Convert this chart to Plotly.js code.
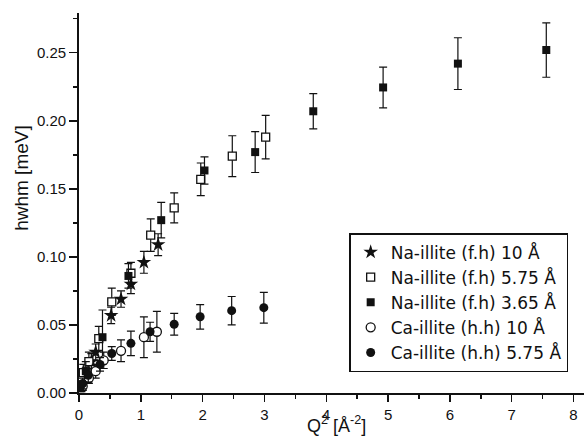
<!DOCTYPE html>
<html>
<head>
<meta charset="utf-8">
<script src="https://cdn.plot.ly/plotly-3.0.1.min.js"></script>
<style>html,body{margin:0;padding:0;background:#fff;}#chart{width:584px;height:442px;}</style>
</head>
<body>
<div id="chart"></div>
<script>
// Series names
const seriesNames = [
  "Na-illite (f.h) 10 Å",
  "Na-illite (f.h) 5.75 Å",
  "Na-illite (f.h) 3.65 Å",
  "Ca-illite (h.h) 10 Å",
  "Ca-illite (h.h) 5.75 Å"
];

// Na-illite (f.h) 10 Å  (stars)
const naStarX   = [0.05, 0.12, 0.20, 0.27, 0.52, 0.68, 0.84, 1.05, 1.28];
const naStarY   = [0.006, 0.014, 0.023, 0.030, 0.057, 0.069, 0.080, 0.096, 0.109];
const naStarErr = [0.004, 0.005, 0.006, 0.006, 0.006, 0.006, 0.007, 0.008, 0.008];

// Na-illite (f.h) 5.75 Å (open squares)
const naOpenSqX   = [0.03, 0.07, 0.16, 0.32, 0.53, 0.84, 1.16, 1.54, 1.97, 2.48, 3.02];
const naOpenSqY   = [0.010, 0.015, 0.023, 0.040, 0.067, 0.088, 0.116, 0.136, 0.157, 0.174, 0.188];
const naOpenSqErr = [0.005, 0.006, 0.007, 0.009, 0.010, 0.008, 0.012, 0.011, 0.012, 0.015, 0.016];

// Na-illite (f.h) 3.65 Å (filled squares)
const naSqX   = [0.04, 0.11, 0.38, 0.80, 1.33, 2.03, 2.85, 3.79, 4.92, 6.13, 7.56];
const naSqY   = [0.005, 0.016, 0.041, 0.086, 0.127, 0.1635, 0.177, 0.207, 0.2245, 0.242, 0.252];
const naSqErr = [0.004, 0.007, 0.020, 0.009, 0.013, 0.010, 0.015, 0.013, 0.015, 0.019, 0.020];

// Ca-illite (h.h) 10 Å (open circles)
const caOpenX   = [0.06, 0.16, 0.27, 0.40, 0.68, 1.05, 1.26];
const caOpenY   = [0.005, 0.011, 0.016, 0.024, 0.031, 0.041, 0.045];
const caOpenErr = [0.003, 0.004, 0.005, 0.006, 0.008, 0.015, 0.015];

// Ca-illite (h.h) 5.75 Å (filled circles)
const caX   = [0.02, 0.06, 0.15, 0.34, 0.53, 0.84, 1.15, 1.54, 1.96, 2.47, 2.99];
const caY   = [0.004, 0.007, 0.013, 0.021, 0.029, 0.0365, 0.045, 0.0505, 0.056, 0.0605, 0.0627];
const caErr = [0.003, 0.004, 0.005, 0.005, 0.005, 0.009, 0.007, 0.008, 0.009, 0.0104, 0.0113];

const xRange = [0, 8.17];
const yRange = [0, 0.2792];

function errStyle(arr){
  return {type:'data', array:arr, visible:true, color:'#111', thickness:1.2, width:4};
}

const traces = [
  {x:naStarX, y:naStarY, name:seriesNames[0], type:'scatter', mode:'markers',
   marker:{symbol:'star', size:11, color:'#111'}, error_y:errStyle(naStarErr)},
  {x:naOpenSqX, y:naOpenSqY, name:seriesNames[1], type:'scatter', mode:'markers',
   marker:{symbol:'square', size:8, color:'#fff', line:{color:'#111', width:1.3}}, error_y:errStyle(naOpenSqErr)},
  {x:naSqX, y:naSqY, name:seriesNames[2], type:'scatter', mode:'markers',
   marker:{symbol:'square', size:8, color:'#111'}, error_y:errStyle(naSqErr)},
  {x:caOpenX, y:caOpenY, name:seriesNames[3], type:'scatter', mode:'markers',
   marker:{symbol:'circle', size:9, color:'#fff', line:{color:'#111', width:1.3}}, error_y:errStyle(caOpenErr)},
  {x:caX, y:caY, name:seriesNames[4], type:'scatter', mode:'markers',
   marker:{symbol:'circle', size:9, color:'#111'}, error_y:errStyle(caErr)}
];

const font = {family:'"Liberation Sans", Arial, sans-serif', color:'#111'};

const layout = {
  width:584, height:442,
  margin:{l:79, r:0, t:13, b:49},
  paper_bgcolor:'#fff', plot_bgcolor:'#fff',
  font:Object.assign({size:15}, font),
  showlegend:true,
  legend:{x:0.535, y:0.421, xanchor:'left', yanchor:'top',
    bgcolor:'#fff', bordercolor:'#111', borderwidth:1.5,
    font:{family:'"DejaVu Sans", sans-serif', size:17, color:'#111'}, itemsizing:'trace'},
  xaxis:{range:xRange, dtick:1, tick0:0, ticks:'outside', ticklen:7, tickwidth:1.5, tickcolor:'#111',
    showline:true, linecolor:'#111', linewidth:1.8, showgrid:false, zeroline:false,
    tickfont:Object.assign({size:15}, font),
    minor:{dtick:0.5, ticks:'outside', ticklen:4, tickwidth:1.5, tickcolor:'#111', showgrid:false}},
  yaxis:{range:yRange, dtick:0.05, tick0:0, tickformat:'.2f', ticks:'outside', ticklen:8, tickwidth:1.5, tickcolor:'#111',
    showline:true, linecolor:'#111', linewidth:1.8, showgrid:false, zeroline:false,
    tickfont:Object.assign({size:15}, font),
    minor:{dtick:0.025, ticks:'outside', ticklen:4, tickwidth:1.5, tickcolor:'#111', showgrid:false}},
  xaxis2:{range:xRange, overlaying:'x', anchor:'y', side:'top', dtick:1, tick0:0, ticks:'inside', ticklen:7, tickwidth:1.5,
    tickcolor:'#111', showticklabels:false, showline:true, linecolor:'#111', linewidth:1.8, showgrid:false, zeroline:false,
    minor:{dtick:0.5, ticks:'inside', ticklen:4, tickwidth:1.5, tickcolor:'#111', showgrid:false}},
  yaxis2:{range:yRange, overlaying:'y', anchor:'x', side:'right', dtick:0.05, tick0:0, ticks:'inside', ticklen:8, tickwidth:1.5,
    tickcolor:'#111', showticklabels:false, showline:true, linecolor:'#111', linewidth:1.8, showgrid:false, zeroline:false,
    minor:{dtick:0.025, ticks:'inside', ticklen:4, tickwidth:1.5, tickcolor:'#111', showgrid:false}},
  annotations:[
    {text:'hwhm [meV]', xref:'paper', yref:'paper', x:-0.113, y:0.566, textangle:-90, showarrow:false,
     xanchor:'center', yanchor:'middle', font:Object.assign({size:19}, font)},
    {text:'Q<sup>2</sup> [Å<sup>-2</sup>]', xref:'paper', yref:'paper', x:0.509, y:-0.0816, showarrow:false,
     xanchor:'center', yanchor:'middle', font:Object.assign({size:18}, font)}
  ]
};

Plotly.newPlot('chart', traces, layout, {staticPlot:true, displayModeBar:false});
</script>
</body>
</html>
